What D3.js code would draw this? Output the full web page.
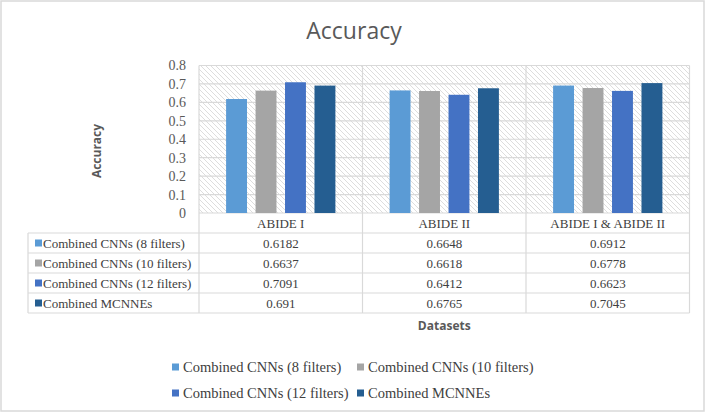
<!DOCTYPE html>
<html>
<head>
<meta charset="utf-8">
<script src="https://cdn.jsdelivr.net/npm/d3@7"></script>
<style>
  html, body { margin: 0; padding: 0; background: #fff; }
  svg { display: block; }
  .serif { font-family: "Liberation Serif", "Times New Roman", serif; }
  .sans { font-family: "Open Sans", "Liberation Sans", sans-serif; }
</style>
</head>
<body>
<svg id="chart" width="708" height="414"></svg>
<script>
const categories = ['ABIDE I', 'ABIDE II', 'ABIDE I & ABIDE II'];
const seriesNames = [
  'Combined CNNs (8 filters)',
  'Combined CNNs (10 filters)',
  'Combined CNNs (12 filters)',
  'Combined MCNNEs'
];
const cnn8 = [0.6182, 0.6648, 0.6912];
const cnn10 = [0.6637, 0.6618, 0.6778];
const cnn12 = [0.7091, 0.6412, 0.6623];
const mcnne = [0.691, 0.6765, 0.7045];
const valueLabels = [
  ['0.6182', '0.6648', '0.6912'],
  ['0.6637', '0.6618', '0.6778'],
  ['0.7091', '0.6412', '0.6623'],
  ['0.691', '0.6765', '0.7045']
];
const yTicks = [0, 0.1, 0.2, 0.3, 0.4, 0.5, 0.6, 0.7, 0.8];
const colors = ['#5B9BD5', '#A5A5A5', '#4472C4', '#255E91'];

const seriesValues = [cnn8, cnn10, cnn12, mcnne];

const plot = { left: 199, right: 689.5, top: 65.5, bottom: 213 };
const tableLeft = 28;
const rowH = 20;
const gridColor = '#d9d9d9';

const svg = d3.select('#chart');

// outer frame
svg.append('rect')
  .attr('x', 1).attr('y', 1)
  .attr('width', 703).attr('height', 410)
  .attr('fill', '#fff')
  .attr('stroke', gridColor)
  .attr('stroke-width', 1.5);

// title
svg.append('text')
  .attr('class', 'sans')
  .attr('x', 354).attr('y', 39)
  .attr('text-anchor', 'middle')
  .attr('font-size', 23)
  .attr('fill', '#595959')
  .text('Accuracy');

// hatch pattern for plot background
const defs = svg.append('defs');
const pat = defs.append('pattern')
  .attr('id', 'hatch')
  .attr('patternUnits', 'userSpaceOnUse')
  .attr('width', 5).attr('height', 5);
pat.append('path')
  .attr('d', 'M-1,-1 L6,6 M-1,4 L1,6 M4,-1 L6,1')
  .attr('stroke', '#d4d4d4')
  .attr('stroke-width', 0.8);

const x0 = d3.scaleBand()
  .domain(categories)
  .range([plot.left, plot.right])
  .padding(0);

const x1 = d3.scaleBand()
  .domain(d3.range(seriesNames.length))
  .range([0, x0.bandwidth()])
  .paddingInner(0.29)
  .paddingOuter(0.92);

const y = d3.scaleLinear()
  .domain([0, 0.8])
  .range([plot.bottom, plot.top]);

svg.append('rect')
  .attr('x', plot.left).attr('y', plot.top)
  .attr('width', plot.right - plot.left)
  .attr('height', plot.bottom - plot.top)
  .attr('fill', 'url(#hatch)');

// horizontal gridlines
svg.append('g')
  .selectAll('line')
  .data(yTicks)
  .join('line')
  .attr('x1', plot.left).attr('x2', plot.right)
  .attr('y1', d => y(d)).attr('y2', d => y(d))
  .attr('stroke', gridColor)
  .attr('stroke-width', 1.2);

// y axis labels
const yAxis = svg.append('g')
  .attr('transform', `translate(${plot.left},0)`)
  .call(d3.axisLeft(y).tickValues(yTicks).tickSize(0).tickPadding(13)
    .tickFormat(d => d === 0 ? '0' : d3.format('.1f')(d)));
yAxis.select('.domain').remove();
yAxis.selectAll('text')
  .attr('class', 'serif')
  .attr('font-size', 14)
  .attr('fill', '#595959');

// bars
const groups = svg.append('g')
  .selectAll('g')
  .data(categories)
  .join('g')
  .attr('transform', c => `translate(${x0(c)},0)`);

groups.selectAll('rect')
  .data((c, ci) => seriesValues.map((vals, si) => ({ si, v: vals[ci] })))
  .join('rect')
  .attr('x', d => x1(d.si))
  .attr('width', x1.bandwidth())
  .attr('y', d => y(d.v))
  .attr('height', d => y(0) - y(d.v))
  .attr('fill', d => colors[d.si]);

// data table
const tableTop = plot.bottom;
const nRows = seriesNames.length;
const tableBottom = tableTop + rowH * (nRows + 1);

const lines = svg.append('g').attr('stroke', gridColor).attr('stroke-width', 1.2);
// vertical dividers (plot + table)
const vx = categories.map(c => x0(c)).concat([plot.right]);
vx.forEach(xx => {
  lines.append('line')
    .attr('x1', xx).attr('x2', xx)
    .attr('y1', plot.top).attr('y2', tableBottom);
});
lines.append('line')
  .attr('x1', tableLeft).attr('x2', tableLeft)
  .attr('y1', tableTop + rowH).attr('y2', tableBottom);
// horizontal rules
d3.range(1, nRows + 2).forEach(i => {
  lines.append('line')
    .attr('x1', tableLeft).attr('x2', plot.right)
    .attr('y1', tableTop + i * rowH).attr('y2', tableTop + i * rowH);
});

// header (category names)
svg.append('g')
  .selectAll('text')
  .data(categories)
  .join('text')
  .attr('class', 'serif')
  .attr('x', c => x0(c) + x0.bandwidth() / 2)
  .attr('y', tableTop + rowH / 2)
  .attr('dy', '0.35em')
  .attr('text-anchor', 'middle')
  .attr('font-size', 13)
  .attr('fill', '#404040')
  .text(c => c);

// row labels with swatches
const rows = svg.append('g')
  .selectAll('g')
  .data(seriesNames)
  .join('g')
  .attr('transform', (s, i) => `translate(0,${tableTop + (i + 1) * rowH})`);

rows.append('rect')
  .attr('x', tableLeft + 7).attr('y', rowH / 2 - 3.5)
  .attr('width', 7).attr('height', 7)
  .attr('fill', (s, i) => colors[i]);

rows.append('text')
  .attr('class', 'serif')
  .attr('x', tableLeft + 15)
  .attr('y', rowH / 2)
  .attr('dy', '0.35em')
  .attr('font-size', 13)
  .attr('fill', '#404040')
  .text(s => s);

rows.selectAll('text.val')
  .data((s, i) => valueLabels[i].map((t, ci) => ({ t, c: categories[ci] })))
  .join('text')
  .attr('class', 'val serif')
  .attr('x', d => x0(d.c) + x0.bandwidth() / 2)
  .attr('y', rowH / 2)
  .attr('dy', '0.35em')
  .attr('text-anchor', 'middle')
  .attr('font-size', 13)
  .attr('fill', '#404040')
  .text(d => d.t);

// axis titles
svg.append('text')
  .attr('class', 'sans')
  .attr('transform', 'translate(101,151) rotate(-90)')
  .attr('text-anchor', 'middle')
  .attr('font-size', 12)
  .attr('font-weight', 'bold')
  .attr('fill', '#595959')
  .text('Accuracy');

svg.append('text')
  .attr('class', 'sans')
  .attr('x', (plot.left + plot.right) / 2)
  .attr('y', 330)
  .attr('text-anchor', 'middle')
  .attr('font-size', 12)
  .attr('font-weight', 'bold')
  .attr('fill', '#595959')
  .text('Datasets');

// legend
const legendX = [172, 357];
const legendY = [367, 393];
const legend = svg.append('g')
  .selectAll('g')
  .data(seriesNames)
  .join('g')
  .attr('transform', (s, i) => `translate(${legendX[i % 2]},${legendY[Math.floor(i / 2)]})`);

legend.append('rect')
  .attr('x', 0).attr('y', -3.5)
  .attr('width', 7).attr('height', 7)
  .attr('fill', (s, i) => colors[i]);

legend.append('text')
  .attr('class', 'serif')
  .attr('x', 11)
  .attr('dy', '0.35em')
  .attr('font-size', 14.5)
  .attr('fill', '#404040')
  .text(s => s);
</script>
</body>
</html>
